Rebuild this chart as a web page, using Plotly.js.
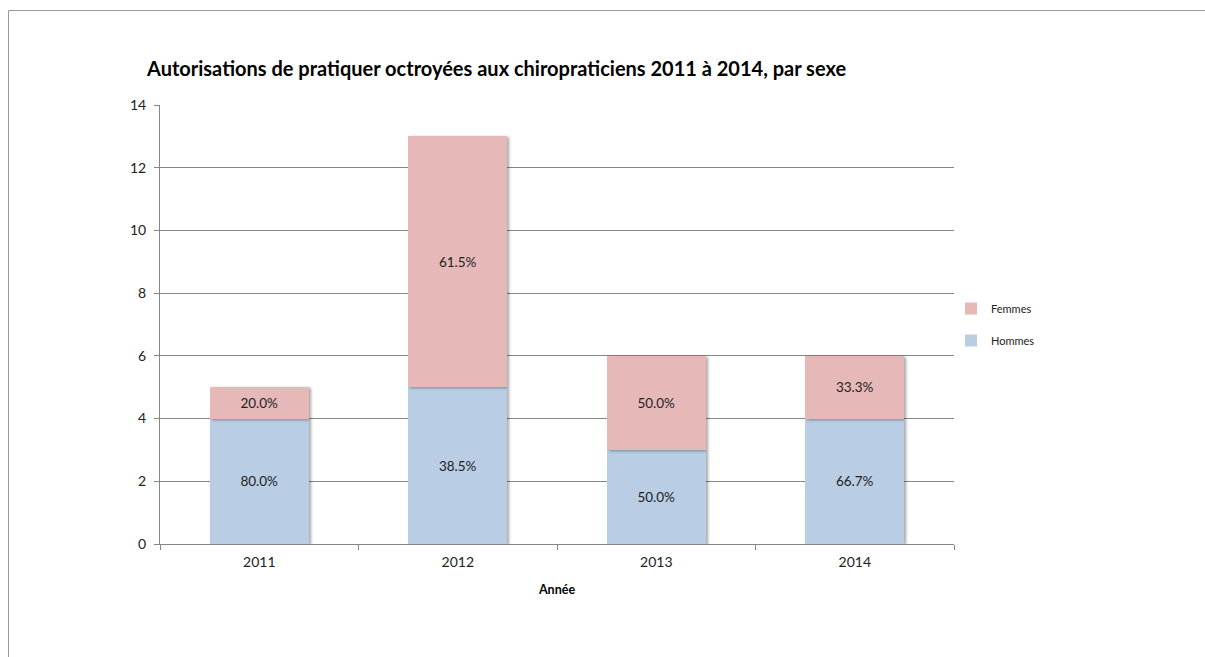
<!DOCTYPE html>
<html><head><meta charset="utf-8">
<script src="https://cdn.plot.ly/plotly-3.0.1.min.js"></script>
<style>html,body{margin:0;padding:0;background:#fff;}#chart{width:1205px;height:657px;}
#chart .barlayer .point path{filter:drop-shadow(2px 1px 1.5px rgba(0,0,0,0.35));}
</style>
</head><body><div id="chart"></div>
<script>
const years = ['2011', '2012', '2013', '2014'];
const hommes = [4, 5, 3, 4];
const femmes = [1, 8, 3, 2];
const seriesNames = ['Hommes', 'Femmes'];

const totals = years.map((_, i) => hommes[i] + femmes[i]);
const pct = (arr) => arr.map((v, i) => (100 * v / totals[i]).toFixed(1) + '%');

const L = 160, R = 954, T = 105, B = 544, W = 1205, H = 657;
const pw = R - L, ph = B - T;
const px = (x) => (x - L) / pw;
const py = (y) => (B - y) / ph;

const font = 'Lato, "Open Sans", sans-serif';

const traces = [
  {type: 'bar', name: seriesNames[0], x: years, y: hommes, text: pct(hommes),
   textposition: 'inside', insidetextanchor: 'middle', textangle: 0,
   textfont: {family: font, size: 13.5, color: '#222'},
   marker: {color: '#B9CDE5', line: {width: 0}}, hoverinfo: 'x+y+name',
   legendgroup: 'h', legendrank: 2},
  {type: 'bar', name: seriesNames[1], x: years, y: femmes, text: pct(femmes),
   textposition: 'inside', insidetextanchor: 'middle', textangle: 0,
   textfont: {family: font, size: 13.5, color: '#222'},
   marker: {color: '#E6B9B8', line: {width: 0}}, hoverinfo: 'x+y+name',
   legendgroup: 'f', legendrank: 1}
];

const layout = {
  width: W, height: H,
  margin: {l: L, r: W - R, t: T, b: H - B, pad: 0},
  paper_bgcolor: '#fff', plot_bgcolor: '#fff',
  barmode: 'stack', bargap: 0.5,
  font: {family: font, color: '#222'},
  title: {text: '<b>Autorisations de pratiquer octroyées aux chiropraticiens 2011 à 2014, par sexe</b>',
          font: {family: font, size: 20, color: '#000'},
          xref: 'container', x: 147 / W, xanchor: 'left',
          yref: 'container', y: 1 - 69 / H, yanchor: 'middle'},
  xaxis: {type: 'category', showline: true, linecolor: '#868686', linewidth: 1,
          ticks: 'outside', tickson: 'boundaries', ticklen: 5, tickcolor: '#868686',
          ticklabelstandoff: 5,
          tickfont: {family: font, size: 14, color: '#222'},
          title: {text: '<b>Année</b>', font: {family: font, size: 12.5, color: '#000'}, standoff: 16},
          showgrid: false, zeroline: false},
  yaxis: {range: [0, 14], dtick: 2, showline: true, linecolor: '#868686', linewidth: 1,
          ticks: 'outside', ticklen: 5, tickcolor: '#868686',
          ticklabelstandoff: 5,
          tickfont: {family: font, size: 14, color: '#222'},
          showgrid: true, gridcolor: '#868686', gridwidth: 1, zeroline: false},
  legend: {x: px(951), xanchor: 'left', y: py(294), yanchor: 'top',
           traceorder: 'grouped', tracegroupgap: 13,
           font: {family: font, size: 11, color: '#222'},
           itemwidth: 30, bgcolor: 'rgba(0,0,0,0)'},
  shapes: [
    {type: 'line', xref: 'paper', yref: 'paper', x0: px(8.5), x1: px(W + 5), y0: py(10.5), y1: py(10.5),
     line: {color: '#9a9a9a', width: 1}},
    {type: 'line', xref: 'paper', yref: 'paper', x0: px(8.5), x1: px(8.5), y0: py(10.5), y1: py(H + 5),
     line: {color: '#9a9a9a', width: 1}}
  ]
};

Plotly.newPlot('chart', traces, layout, {displayModeBar: false, staticPlot: true});
</script></body></html>
